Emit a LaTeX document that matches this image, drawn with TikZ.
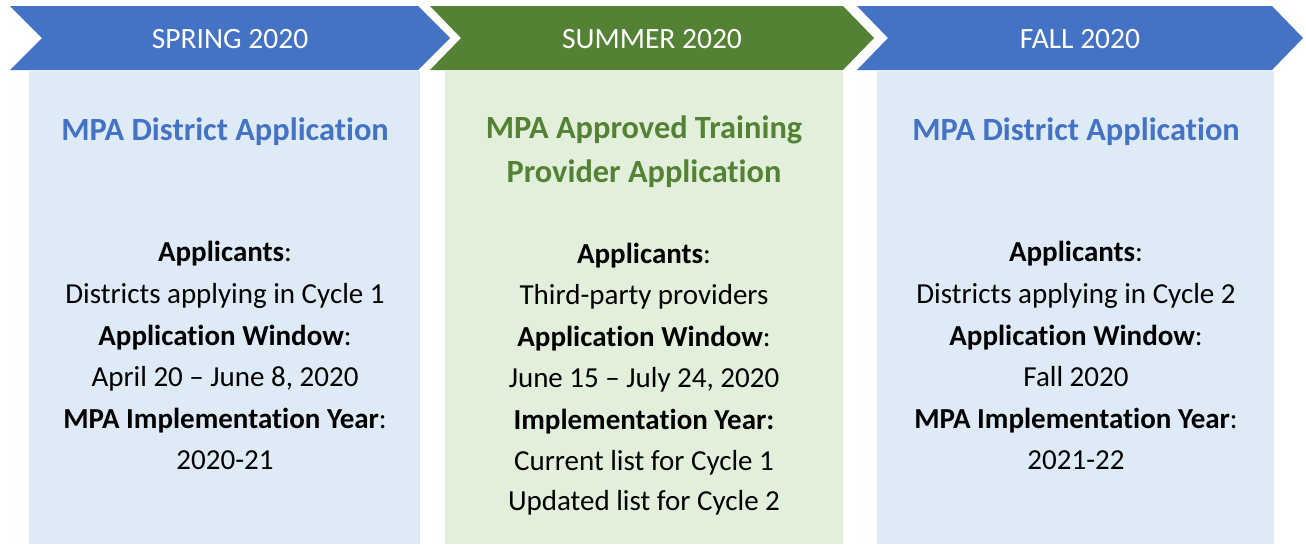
\documentclass[tikz,border=0pt]{standalone}
\usepackage{fontspec}
\setmainfont{Carlito}[Ligatures=CommonOff]
\definecolor{hblue}{HTML}{4472C4}
\definecolor{hgreen}{HTML}{548235}
\definecolor{lblue}{HTML}{DEEAF6}
\definecolor{lgreen}{HTML}{E2EFDA}
\tikzset{
  hdr/.style={text=white, font=\fontsize{29.5}{32}\selectfont, anchor=center, inner sep=0pt},
  ttl/.style={font=\fontsize{32.4}{36}\selectfont\bfseries, anchor=base, inner sep=0pt},
  bodyline/.style={font=\fontsize{29}{32}\selectfont, anchor=base, inner sep=0pt, text=black},
}
\begin{document}
\begin{tikzpicture}[x=1pt,y=-1pt]
\useasboundingbox (0,0) rectangle (1306,544);
% chevrons
\fill[hblue] (10,6) -- (418,6) -- (450,38) -- (418,70) -- (10,70) -- (42,38) -- cycle;
\fill[hgreen] (430,6) -- (843,6) -- (874,38) -- (843,70) -- (430,70) -- (461,38) -- cycle;
\fill[hblue] (857,6) -- (1272,6) -- (1303,38) -- (1272,70) -- (857,70) -- (888,38) -- cycle;
\node[hdr] (h1) at (230,39) {SPRING 2020};
\node[hdr] (h2) at (652,39) {SUMMER 2020};
\node[hdr] (h3) at (1080,39) {FALL 2020};
% boxes
\fill[lblue] (29,71) rectangle (420,544);
\fill[lgreen] (445,71) rectangle (843,544);
\fill[lblue] (877,71) rectangle (1274,544);
% column 1
\node[ttl, text=hblue] (t1) at (225,140) {MPA District Application};
\node[bodyline] (a1) at (225,261) {\textbf{Applicants}:};
\node[bodyline] (a2) at (225,303) {Districts applying in Cycle 1};
\node[bodyline] (a3) at (225,345) {\textbf{Application Window}:};
\node[bodyline] (a4) at (225,386) {April 20 – June 8, 2020};
\node[bodyline] (a5) at (225,428) {\textbf{MPA Implementation Year}:};
\node[bodyline] (a6) at (225,469) {2020-21};
% column 2
\node[ttl, text=hgreen] (t2a) at (644,138) {MPA Approved Training};
\node[ttl, text=hgreen] (t2b) at (644,182) {Provider Application};
\node[bodyline] (b1) at (644,263) {\textbf{Applicants}:};
\node[bodyline] (b2) at (644,304) {Third-party providers};
\node[bodyline] (b3) at (644,346) {\textbf{Application Window}:};
\node[bodyline] (b4) at (644,387) {June 15 – July 24, 2020};
\node[bodyline] (b5) at (644,429) {\textbf{Implementation Year:}};
\node[bodyline] (b6) at (644,470) {Current list for Cycle 1};
\node[bodyline] (b7) at (644,510) {Updated list for Cycle 2};
% column 3
\node[ttl, text=hblue] (t3) at (1076,140) {MPA District Application};
\node[bodyline] (c1) at (1076,261) {\textbf{Applicants}:};
\node[bodyline] (c2) at (1076,303) {Districts applying in Cycle 2};
\node[bodyline] (c3) at (1076,345) {\textbf{Application Window}:};
\node[bodyline] (c4) at (1076,386) {Fall 2020};
\node[bodyline] (c5) at (1076,428) {\textbf{MPA Implementation Year}:};
\node[bodyline] (c6) at (1076,469) {2021-22};
\end{tikzpicture}
\end{document}
